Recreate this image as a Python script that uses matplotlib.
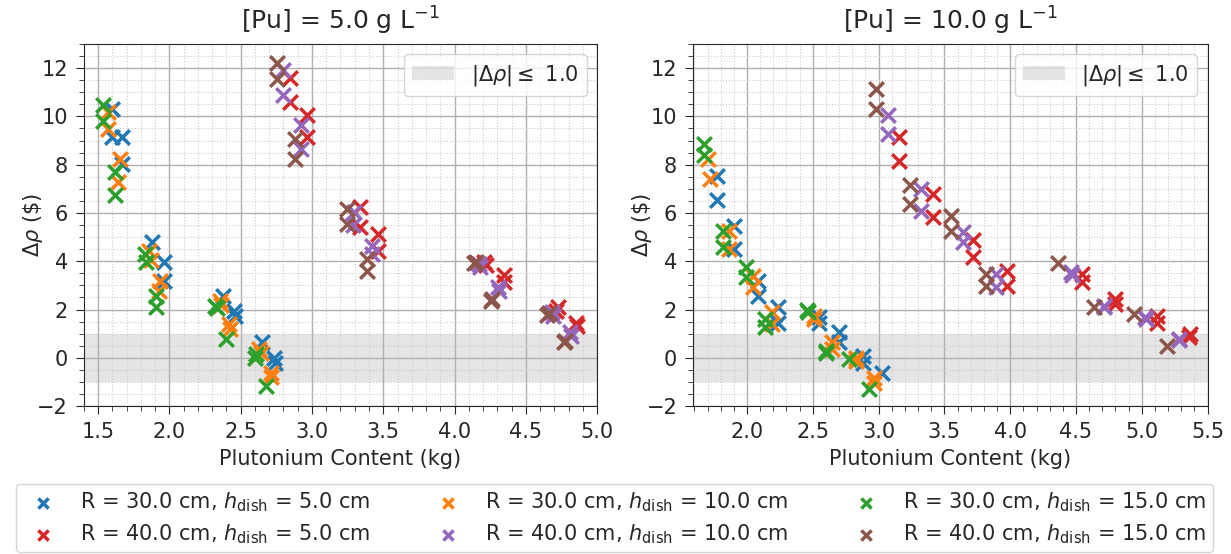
import matplotlib
matplotlib.use("Agg")
import matplotlib.pyplot as plt

plt.rcParams["font.size"] = 15
plt.rcParams["text.color"] = "#262626"
plt.rcParams["axes.labelcolor"] = "#262626"
plt.rcParams["xtick.color"] = "#262626"
plt.rcParams["ytick.color"] = "#262626"
plt.rcParams["xtick.major.size"] = 6
plt.rcParams["ytick.major.size"] = 6
plt.rcParams["xtick.minor.size"] = 3.5
plt.rcParams["ytick.minor.size"] = 3.5
plt.rcParams["xtick.major.pad"] = 5.5
plt.rcParams["ytick.major.pad"] = 5.5

# series labels, in plotting order (colours C0..C5)
labels = [
    r"R = 30.0 cm, $h_{\rm dish}$ = 5.0 cm",
    r"R = 30.0 cm, $h_{\rm dish}$ = 10.0 cm",
    r"R = 30.0 cm, $h_{\rm dish}$ = 15.0 cm",
    r"R = 40.0 cm, $h_{\rm dish}$ = 5.0 cm",
    r"R = 40.0 cm, $h_{\rm dish}$ = 10.0 cm",
    r"R = 40.0 cm, $h_{\rm dish}$ = 15.0 cm",
]
titles = [r"[Pu] = 5.0 g L$^{-1}$", r"[Pu] = 10.0 g L$^{-1}$"]

# ---- [Pu] = 5.0 g/L ----
x5_r30h5 = [1.596, 1.60, 1.666, 1.666, 1.877, 1.959, 1.959, 2.376, 2.451, 2.46, 2.65, 2.732, 2.74]
y5_r30h5 = [10.32, 9.14, 9.14, 8.03, 4.78, 3.95, 3.19, 2.57, 1.95, 1.75, 0.64, 0.01, -0.2]
x5_r30h10 = [1.572, 1.572, 1.655, 1.636, 1.853, 1.87, 1.936, 1.925, 2.352, 2.36, 2.42, 2.425, 2.627, 2.64, 2.709, 2.712]
y5_r30h10 = [10.18, 9.49, 8.24, 7.27, 4.44, 4.05, 3.19, 2.75, 2.36, 2.2, 1.40, 1.2, 0.36, 0.2, -0.61, -0.8]
x5_r30h15 = [1.537, 1.537, 1.62, 1.62, 1.83, 1.835, 1.908, 1.908, 2.322, 2.33, 2.40, 2.603, 2.61, 2.68]
y5_r30h15 = [10.46, 9.83, 7.69, 6.76, 4.3, 3.95, 2.57, 2.09, 2.16, 2.07, 0.78, 0.01, 0.15, -1.16]
x5_r40h5 = [2.844, 2.844, 2.967, 2.967, 3.336, 3.34, 3.463, 3.463, 4.208, 4.22, 4.344, 4.35, 4.723, 4.71, 4.852, 4.86]
y5_r40h5 = [11.6, 10.6, 10.04, 9.14, 6.24, 5.41, 5.13, 4.44, 3.95, 3.85, 3.45, 3.15, 2.09, 1.95, 1.45, 1.3]
x5_r40h10 = [2.798, 2.798, 2.924, 2.924, 3.294, 3.29, 3.423, 3.423, 4.172, 4.18, 4.306, 4.31, 4.681, 4.69, 4.812, 4.82]
y5_r40h10 = [11.91, 10.87, 9.63, 8.66, 6.03, 5.5, 4.65, 4.30, 3.89, 3.75, 2.92, 2.75, 1.88, 1.75, 1.05, 0.9]
x5_r40h15 = [2.751, 2.751, 2.884, 2.884, 3.248, 3.248, 3.383, 3.383, 4.137, 4.15, 4.259, 4.262, 4.648, 4.66, 4.77, 4.775]
y5_r40h15 = [12.21, 11.56, 9.07, 8.24, 6.17, 5.55, 4.10, 3.61, 3.91, 3.95, 2.36, 2.45, 1.78, 1.85, 0.64, 0.7]

# ---- [Pu] = 10.0 g/L ----
x10_r30h5 = [1.771, 1.771, 1.903, 1.903, 2.081, 2.081, 2.234, 2.234, 2.547, 2.55, 2.70, 2.70, 2.878, 2.878, 3.023]
y10_r30h5 = [7.55, 6.54, 5.48, 4.51, 3.19, 2.57, 2.09, 1.45, 1.67, 1.45, 1.05, 0.64, 0.08, -0.2, -0.61]
x10_r30h10 = [1.707, 1.72, 1.86, 1.86, 2.046, 2.046, 2.19, 2.19, 2.508, 2.51, 2.649, 2.649, 2.827, 2.83, 2.966, 2.966]
y10_r30h10 = [8.24, 7.41, 5.27, 4.5, 3.40, 2.92, 1.88, 1.4, 1.74, 1.6, 0.64, 0.36, 0.01, -0.15, -0.85, -1.05]
x10_r30h15 = [1.674, 1.674, 1.82, 1.82, 1.995, 1.995, 2.14, 2.14, 2.458, 2.46, 2.598, 2.60, 2.776, 2.924]
y10_r30h15 = [8.84, 8.4, 5.27, 4.58, 3.75, 3.33, 1.60, 1.26, 1.98, 1.9, 0.29, 0.2, -0.05, -1.3]
x10_r40h5 = [3.157, 3.157, 3.412, 3.412, 3.717, 3.717, 3.972, 3.972, 4.544, 4.544, 4.794, 4.794, 5.117, 5.117, 5.363, 5.36]
y10_r40h5 = [9.14, 8.15, 6.79, 5.82, 4.88, 4.16, 3.61, 2.99, 3.47, 3.12, 2.44, 2.23, 1.74, 1.46, 0.98, 0.88]
x10_r40h10 = [3.073, 3.073, 3.323, 3.323, 3.641, 3.641, 3.895, 3.895, 4.463, 4.47, 4.71, 4.71, 5.028, 5.03, 5.282, 5.28]
y10_r40h10 = [10.04, 9.28, 7.0, 6.1, 5.20, 4.78, 3.47, 2.92, 3.54, 3.45, 2.16, 2.1, 1.67, 1.6, 0.78, 0.72]
x10_r40h15 = [2.979, 2.979, 3.241, 3.241, 3.547, 3.547, 3.819, 3.819, 4.366, 4.634, 4.939, 5.193]
y10_r40h15 = [11.15, 10.32, 7.14, 6.38, 5.89, 5.27, 3.47, 2.99, 3.91, 2.09, 1.81, 0.50]

panels = [
    [(x5_r30h5, y5_r30h5), (x5_r30h10, y5_r30h10), (x5_r30h15, y5_r30h15),
     (x5_r40h5, y5_r40h5), (x5_r40h10, y5_r40h10), (x5_r40h15, y5_r40h15)],
    [(x10_r30h5, y10_r30h5), (x10_r30h10, y10_r30h10), (x10_r30h15, y10_r30h15),
     (x10_r40h5, y10_r40h5), (x10_r40h10, y10_r40h10), (x10_r40h15, y10_r40h15)],
]
xlims = [(1.4, 5.0), (1.59, 5.5)]

fig = plt.figure(figsize=(12.31, 5.54), dpi=100)
ax1 = fig.add_axes([0.0682, 0.267, 0.4168, 0.6536])
ax2 = fig.add_axes([0.563, 0.267, 0.418, 0.6536])

handles = []
for ax, series, title, xl in zip([ax1, ax2], panels, titles, xlims):
    hs = []
    for i, (xs, ys) in enumerate(series):
        h = ax.scatter(xs, ys, marker="x", s=110, linewidths=2.5,
                       color=f"C{i}", label=labels[i], zorder=3)
        hs.append(h)
    handles = hs
    span = ax.axhspan(-1, 1, color="gray", alpha=0.2, lw=0,
                      label=r"$|\Delta\rho| \leq$ 1.0")
    ax.legend(handles=[span], loc="upper right")
    ax.set_xlim(*xl)
    ax.set_ylim(-2, 13)
    ax.set_yticks(range(-2, 13, 2))
    ax.minorticks_on()
    ax.grid(which="major", color="#b0b0b0", lw=1)
    ax.grid(which="minor", color="#cccccc", lw=0.8, ls=":")
    for s in ax.spines.values():
        s.set_color("#262626")
    ax.set_title(title, pad=10)
    ax.set_xlabel("Plutonium Content (kg)", labelpad=5)
    ax.set_ylabel(r"$\Delta\rho$ (\$)")
    ax.yaxis.set_label_coords(-0.076, 0.5)

# reorder so rows read R=30 then R=40
order = [0, 3, 1, 4, 2, 5]
fig.legend([handles[k] for k in order], [labels[k] for k in order],
           loc="lower left", ncol=3, mode="expand",
           bbox_to_anchor=(0.011, 0.0, 0.976, 0.12),
           markerscale=0.7, borderaxespad=0.1, borderpad=0.3,
           labelspacing=0.4)

fig.savefig("out.png", dpi=100)
